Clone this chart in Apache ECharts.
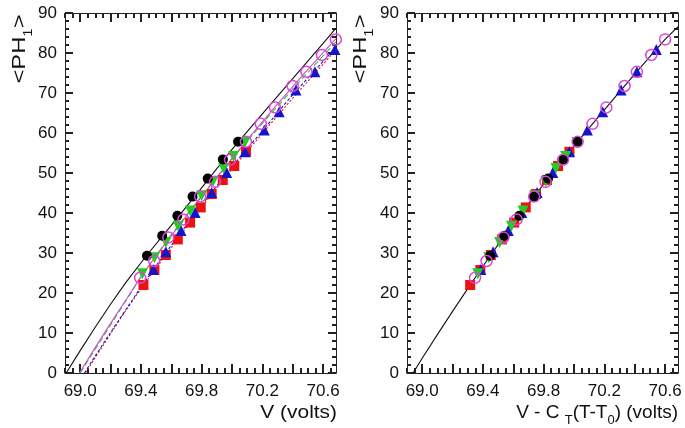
<!DOCTYPE html>
<html><head><meta charset="utf-8">
<script src="https://cdn.jsdelivr.net/npm/echarts@6/dist/echarts.min.js"></script>
<style>html,body{margin:0;padding:0;background:#fff}#c{width:685px;height:428px}</style>
</head><body><div id="c"></div>
<script>
// ---- tick values ----
const xTickLabels = [69.0, 69.4, 69.8, 70.2, 70.6];
const xMajorTicks = [69.0, 69.2, 69.4, 69.6, 69.8, 70.0, 70.2, 70.4, 70.6];
const xMinorTicks = [68.9, 68.95, 69.05, 69.1, 69.15, 69.25, 69.3, 69.35, 69.45, 69.5, 69.55, 69.65, 69.7, 69.75, 69.85, 69.9, 69.95, 70.05, 70.1, 70.15, 70.25, 70.3, 70.35, 70.45, 70.5, 70.55, 70.65];
const xRange = [68.9, 70.685];
const yRange = [0, 90];

// ---- left panel: <PH1> vs V ----
const blackV = [69.44, 69.54, 69.64, 69.74, 69.84, 69.94, 70.04];
const blackPH = [29.3, 34.3, 39.3, 44.1, 48.6, 53.4, 57.8];
const magentaV = [69.395, 69.487, 69.581, 69.68, 69.79, 69.888, 69.987, 70.092, 70.189, 70.283, 70.399, 70.49, 70.592, 70.684];
const magentaPH = [23.8, 28.0, 33.9, 38.4, 44.1, 47.8, 53.3, 57.8, 62.3, 66.4, 71.75, 75.3, 79.5, 83.4];
const greenV = [69.41, 69.49, 69.565, 69.645, 69.725, 69.80, 69.875, 69.945, 70.01, 70.085];
const greenPH = [24.8, 28.8, 32.6, 36.7, 40.5, 44.3, 47.9, 51.1, 54.1, 57.6];
const blueV = [69.482, 69.564, 69.664, 69.757, 69.866, 69.965, 70.086, 70.213, 70.311, 70.421, 70.546, 70.678];
const bluePH = [25.9, 30.3, 35.6, 40.1, 45.1, 50.1, 55.3, 60.75, 65.3, 70.75, 75.3, 80.9];
const redV = [69.417, 69.489, 69.564, 69.643, 69.724, 69.794, 69.866, 69.939, 70.015, 70.092];
const redPH = [22.0, 25.75, 29.5, 33.4, 37.6, 41.4, 44.75, 48.25, 51.75, 55.3];

// fit curves (left)
const blackFitV = [68.908, 69.0, 69.1, 69.2, 69.3, 69.44, 69.6, 69.8, 70.0, 70.2, 70.4, 70.6, 70.685];
const blackFitPH = [0, 5.6, 11.5, 17.2, 22.6, 29.5, 36.9, 46.3, 55.9, 64.8, 73.6, 82.4, 86.2];
const magentaFitV = [68.995, 69.1, 69.2, 69.3, 69.395, 69.5, 69.7, 69.9, 70.1, 70.3, 70.5, 70.685];
const magentaFitPH = [0, 6.4, 12.4, 18.2, 23.8, 29.3, 39.3, 48.9, 58.3, 67.3, 75.9, 83.6];
const greenFitV = [69.0, 69.1, 69.2, 69.3, 69.41, 69.6, 69.8, 70.0, 70.2, 70.4, 70.685];
const greenFitPH = [0, 6.0, 12.0, 18.0, 24.6, 34.6, 44.3, 53.6, 62.4, 71.0, 82.8];
const blueFitV = [69.028, 69.1, 69.2, 69.3, 69.4, 69.482, 69.6, 69.8, 70.0, 70.2, 70.4, 70.685];
const blueFitPH = [0, 4.3, 10.1, 15.8, 21.4, 25.9, 31.9, 42.0, 51.6, 60.5, 69.6, 81.4];
const redFitV = [69.035, 69.1, 69.2, 69.3, 69.417, 69.6, 69.8, 70.0, 70.2, 70.4, 70.685];
const redFitPH = [0, 3.9, 9.8, 15.6, 22.0, 31.3, 41.5, 51.0, 59.9, 68.7, 80.8];

// ---- right panel: <PH1> vs V - C_T(T-T0) ----
const blackVc = [69.448, 69.542, 69.64, 69.737, 69.829, 69.93, 70.024];
const magentaVc = [69.348, 69.424, 69.535, 69.622, 69.737, 69.8125, 69.928, 70.024, 70.122, 70.213, 70.333, 70.414, 70.509, 70.6];
const greenVc = [69.366, 69.439, 69.51, 69.588, 69.664, 69.741, 69.815, 69.881, 69.945, 70.02];
const blueVc = [69.386, 69.467, 69.567, 69.656, 69.757, 69.86, 69.97, 70.088, 70.189, 70.31, 70.414, 70.542];
const redVc = [69.316, 69.383, 69.452, 69.525, 69.606, 69.682, 69.75, 69.822, 69.895, 69.97];
const fitVc = [68.94, 69.0, 69.1, 69.2, 69.3, 69.4, 69.5, 69.6, 69.7, 69.8, 69.9, 70.0, 70.1, 70.2, 70.3, 70.4, 70.5, 70.6, 70.685];
const fitPHc = [0, 3.7, 9.6, 15.4, 21.1, 26.7, 32.1, 37.3, 42.3, 47.2, 52.0, 56.7, 61.3, 65.8, 70.3, 74.7, 79.1, 83.4, 86.6];

// ---- styling ----
const FONT = "'Liberation Sans', Arial, sans-serif";
const AX = '#222';
const TXT = '#111';
const C = { black: '#000000', magenta: '#d946d9', green: '#22cc22', blue: '#1414cc', red: '#ee1111' };
const TW = 2;

const zip = (xs, ys) => xs.map((x, i) => [x, ys[i]]);

function xAxisFor(g, pos, showLabel, ticks, len, showLine) {
  return { type: 'value', gridIndex: g, min: xRange[0], max: xRange[1], position: pos, splitLine: { show: false },
    axisLine: { show: showLine, onZero: false, lineStyle: { color: AX, width: 1 } },
    axisTick: { show: true, inside: true, length: len, customValues: ticks, lineStyle: { color: AX, width: TW } },
    axisLabel: { show: showLabel, customValues: xTickLabels, formatter: v => v.toFixed(1), fontSize: 17, fontFamily: FONT, color: TXT, margin: 10 } };
}
function yAxisFor(g, pos) {
  return { type: 'value', gridIndex: g, min: yRange[0], max: yRange[1], interval: 10, position: pos, splitLine: { show: false },
    axisLine: { show: true, onZero: false, lineStyle: { color: AX, width: 1 } },
    axisTick: { show: true, inside: true, length: 8, lineStyle: { color: AX, width: TW } },
    minorTick: { show: true, splitNumber: 5, length: 4, lineStyle: { color: AX, width: TW } },
    axisLabel: { show: pos === 'left', fontSize: 17, fontFamily: FONT, color: TXT, margin: 8 } };
}

function lineS(xs, ys, color, type, g, width) {
  return { type: 'line', xAxisIndex: g * 4, yAxisIndex: g * 2, data: zip(xs, ys), symbol: 'none', showSymbol: false,
    lineStyle: { color, width: width || 1.1, type }, z: 2, silent: true, animation: false };
}
function scat(xs, ys, g, opt) {
  return Object.assign({ type: 'scatter', xAxisIndex: g * 4, yAxisIndex: g * 2, data: zip(xs, ys), z: 3, silent: true, animation: false }, opt);
}
const mk = {
  red: { symbol: 'rect', symbolSize: 10, itemStyle: { color: C.red, opacity: 1 } },
  blue: { symbol: 'triangle', symbolSize: 11, itemStyle: { color: C.blue, opacity: 1 } },
  green: { symbol: 'triangle', symbolRotate: 180, symbolSize: 11, itemStyle: { color: C.green, opacity: 1 } },
  black: { symbol: 'circle', symbolSize: 10, itemStyle: { color: C.black, opacity: 1 } },
  magenta: { symbol: 'circle', symbolSize: 11, itemStyle: { color: 'rgba(255,255,255,0)', borderColor: C.magenta, borderWidth: 1.5, opacity: 1 } }
};

const series = [
  lineS(redFitV, redFitPH, C.red, [2, 2], 0),
  lineS(blueFitV, blueFitPH, C.blue, [3, 2], 0),
  lineS(greenFitV, greenFitPH, C.green, [6, 3], 0),
  lineS(magentaFitV, magentaFitPH, C.magenta, 'solid', 0),
  lineS(blackFitV, blackFitPH, '#111', 'solid', 0),
  scat(redV, redPH, 0, mk.red),
  scat(blueV, bluePH, 0, mk.blue),
  scat(greenV, greenPH, 0, mk.green),
  scat(blackV, blackPH, 0, mk.black),
  scat(magentaV, magentaPH, 0, mk.magenta),
  lineS(fitVc, fitPHc, '#111', 'solid', 1),
  scat(redVc, redPH, 1, mk.red),
  scat(blueVc, bluePH, 1, mk.blue),
  scat(greenVc, greenPH, 1, mk.green),
  scat(blackVc, blackPH, 1, mk.black),
  scat(magentaVc, magentaPH, 1, mk.magenta)
];

const yTitleRich = {
  m: { fontSize: 19, fontFamily: FONT, fill: TXT, color: TXT, lineHeight: 30, verticalAlign: 'middle' },
  s: { fontSize: 12, fontFamily: FONT, fill: TXT, color: TXT, lineHeight: 12, verticalAlign: 'bottom' }
};
const xTitleRich = {
  m: { fontSize: 19, fontFamily: FONT, fill: TXT, color: TXT, lineHeight: 28, verticalAlign: 'middle' },
  s: { fontSize: 13, fontFamily: FONT, fill: TXT, color: TXT, lineHeight: 13, verticalAlign: 'bottom' }
};

function yTitle(x) {
  return { type: 'text', x: x, y: 49, rotation: Math.PI / 2, scaleX: 1.25, silent: true,
    style: { text: '{m|<PH}{s|1}{m|>}', rich: yTitleRich, align: 'center', verticalAlign: 'middle' } };
}

const option = {
  animation: false,
  grid: [
    { left: 65, top: 13, width: 271, height: 360 },
    { left: 407, top: 13, width: 271, height: 360 }
  ],
  xAxis: [
    xAxisFor(0, 'bottom', true, xMajorTicks, 9, true), xAxisFor(0, 'bottom', false, xMinorTicks, 5, false),
    xAxisFor(0, 'top', false, xMajorTicks, 9, true), xAxisFor(0, 'top', false, xMinorTicks, 5, false),
    xAxisFor(1, 'bottom', true, xMajorTicks, 9, true), xAxisFor(1, 'bottom', false, xMinorTicks, 5, false),
    xAxisFor(1, 'top', false, xMajorTicks, 9, true), xAxisFor(1, 'top', false, xMinorTicks, 5, false)
  ],
  yAxis: [yAxisFor(0, 'left'), yAxisFor(0, 'right'), yAxisFor(1, 'left'), yAxisFor(1, 'right')],
  series: series,
  graphic: [
    yTitle(20),
    yTitle(361),
    { type: 'text', x: 337, y: 413, scaleX: 1.1, silent: true,
      style: { text: '{m|V (volts)}', rich: xTitleRich, align: 'right', verticalAlign: 'middle' } },
    { type: 'text', x: 678, y: 413, silent: true,
      style: { text: '{m|V - C }{s|T}{m|(T-T}{s|0}{m|) (volts)}', rich: xTitleRich, align: 'right', verticalAlign: 'middle' } }
  ]
};
const chart = echarts.init(document.getElementById('c'));
chart.setOption(option);
</script>
</body></html>
